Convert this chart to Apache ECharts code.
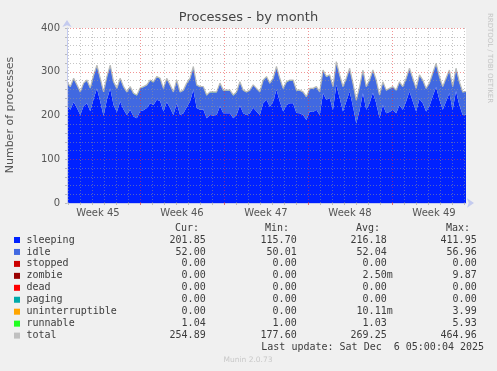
<!DOCTYPE html>
<html><head><meta charset="utf-8">
<script src="https://cdn.jsdelivr.net/npm/echarts@6/dist/echarts.min.js"></script>
<style>html,body{margin:0;padding:0;background:#f0f0f0}#c{width:497px;height:371px}</style>
</head><body><div id="c"></div>
<script>
// Sampled series (about every 6.65 h over the month window)
const sleeping = [224,213,231,217,201,222,228,210,238,262,
232,199,236,262,224,208,232,214,201,213,
198,194,210,212,217,228,224,236,233,209,
231,217,201,228,201,205,219,232,259,217,
213,214,194,201,200,201,221,205,205,205,
194,201,223,205,201,205,218,209,201,228,
236,220,232,259,232,209,224,228,228,206,
205,201,190,209,208,213,201,251,236,240,
213,270,240,209,232,255,221,182,212,251,
213,228,252,228,194,224,205,208,213,205,
224,213,232,255,232,209,238,228,209,221,
244,265,236,213,232,251,213,256,224,201,
201.85];
const idle = [52,52,53,52,52,51,52,52,53,52,
52,54,52,52,52,53,52,51,52,52,
52,52,52,53,52,52,52,52,51,52,
53,52,52,52,52,52,54,52,52,52,
52,51,52,52,53,52,52,52,52,52,
52,52,53,52,52,52,51,52,52,52,
52,53,52,52,52,52,52,52,52,51,
52,52,52,52,53,52,52,52,52,52,
52,52,52,56,52,52,52,52,53,52,
52,52,51,52,52,52,52,53,52,52,
52,52,52,52,52,52,54,52,52,52,
52,53,52,52,52,52,52,51,52,52,
52];
const runnable = [1,1,1,1,1,1,1,1,1,1,
1,1,1,1,1,1,1,1,1,1,
1,1,1,1,1,1,1,1,1,1,
1,1,1,1,1,1,1,1,1,1,
1,1,1,1,1,1,1,1,1,1,
1,1,1,1,1,1,1,1,1,1,
1,1,1,1,1,1,1,1,1,1,
1,1,1,1,1,1,1,1,1,1,
1,1,1,1,1,1,1,1,1,1,
1,1,1,1,1,1,1,1,1,1,
1,1,1,1,1,1,1,1,1,1,
1,1,1,1,1,1,1,1,1,1,
1.04];
const total = [277,266,285,270,254,274,281,263,292,315,
285,254,289,315,277,262,285,266,254,266,
251,247,263,266,270,281,277,289,285,262,
285,270,254,281,254,258,274,285,312,270,
266,266,247,254,254,254,274,258,258,258,
247,254,277,258,254,258,270,262,254,281,
289,274,285,312,285,262,277,281,281,258,
258,254,243,262,262,266,254,304,289,293,
266,323,293,266,285,308,274,235,266,304,
266,281,304,281,247,277,258,262,266,258,
277,266,285,308,285,262,293,281,262,274,
297,319,289,266,285,304,266,308,277,254,
254.89];

const weekLabels = ['Week 45','Week 46','Week 47','Week 48','Week 49'];
const yTicks = [0,100,200,300,400];

const legendNames = ['sleeping','idle','stopped','zombie','dead','paging','uninterruptible','runnable','total'];
const legendColors = ['#0022ff','#4169e1','#cc0000','#990000','#ff0000','#00aaaa','#ffa500','#22ff22','#c0c0c0'];
const curVals = ['201.85 ','52.00 ','0.00 ','0.00 ','0.00 ','0.00 ','0.00 ','1.04 ','254.89 '];
const minVals = ['115.70 ','50.01 ','0.00 ','0.00 ','0.00 ','0.00 ','0.00 ','1.00 ','177.60 '];
const avgVals = ['216.18 ','52.04 ','0.00 ','2.50m','0.00 ','0.00 ','10.11m','1.03 ','269.25 '];
const maxVals = ['411.95 ','56.96 ','0.00 ','9.87 ','0.00 ','0.00 ','3.99 ','5.93 ','464.96 '];

const sampleCats = sleeping.map((_, i) => 's' + i);
const slotCats = Array.from({length: 400}, (_, i) => i); // 2-hour slots across plot
const isDay = i => (i - 1) % 12 === 0 && !((i - 73) % 84 === 0 && i >= 73);
const isWeek = i => i >= 73 && (i - 73) % 84 === 0;
const isWeekCenter = i => i >= 31 && (i - 31) % 84 === 0;

const mono = 'DejaVu Sans Mono';
const sans = 'DejaVu Sans';
const txtColor = '#3c3c3c';

const graphics = [];
graphics.push({type:'text', left:'center', top:11, style:{text:'Processes - by month', font:'13px "DejaVu Sans"', fill:'#444'}});
graphics.push({type:'text', x:10, y:115, rotation:Math.PI/2, style:{text:'Number of processes', font:'11px "DejaVu Sans"', fill:'#555', align:'center', verticalAlign:'middle'}});
graphics.push({type:'text', x:490, y:58, rotation:-Math.PI/2, style:{text:'RRDTOOL / TOBI OETIKER', font:'7px "DejaVu Sans"', fill:'#c4c4c4', align:'center', verticalAlign:'middle'}});
const hdrY = 228;
[['Cur:',199],['Min:',289],['Avg:',380],['Max:',470]].forEach(h => {
  graphics.push({type:'text', x:h[1], y:hdrY, style:{text:h[0], font:'10px "DejaVu Sans Mono"', fill:txtColor, align:'right', verticalAlign:'middle'}});
});
legendNames.forEach((n, r) => {
  const y = 240 + r * 11.95;
  graphics.push({type:'rect', shape:{x:14, y:y-3, width:6, height:6}, style:{fill:legendColors[r]}});
  graphics.push({type:'text', x:26.5, y:y, style:{text:n, font:'10px "DejaVu Sans Mono"', fill:txtColor, align:'left', verticalAlign:'middle'}});
  [[curVals,211.7],[minVals,302.7],[avgVals,392.7],[maxVals,482.7]].forEach(c => {
    graphics.push({type:'text', x:c[1], y:y, style:{text:c[0][r], font:'10px "DejaVu Sans Mono"', fill:txtColor, align:'right', verticalAlign:'middle'}});
  });
});
graphics.push({type:'text', x:261.3, y:347.7, style:{text:'Last update: Sat Dec  6 05:00:04 2025', font:'10px "DejaVu Sans Mono"', fill:txtColor, align:'left', verticalAlign:'middle'}});
graphics.push({type:'text', x:248, y:360, style:{text:'Munin 2.0.73', font:'7.5px "DejaVu Sans"', fill:'#c8c8c8', align:'center', verticalAlign:'middle'}});

const chart = echarts.init(document.getElementById('c'), null, {renderer:'canvas'});
chart.setOption({
  animation: false,
  backgroundColor: '#f0f0f0',
  grid: {left:67, right:31, top:28, bottom:168, show:true, backgroundColor:'#ffffff', borderWidth:0},
  xAxis: [
    {type:'category', data:sampleCats, boundaryGap:false, show:false},
    {type:'category', data:slotCats, boundaryGap:false, position:'bottom', z:5,
      axisLine:{show:true, lineStyle:{color:'#c4cbef', width:1}, symbol:['none','arrow'], symbolSize:[7,7], symbolOffset:[0,8]},
      axisTick:{show:true, length:2, interval:(i)=>isDay(i), lineStyle:{color:'#bbbbbb'}},
      axisLabel:{show:true, interval:(i)=>isWeekCenter(i), formatter:(v, i)=>weekLabels[(i-31)/84] || '', color:'#555', fontFamily:sans, fontSize:10, margin:5},
      splitLine:{show:true, interval:(i)=>isDay(i), lineStyle:{color:'rgba(150,150,150,0.55)', type:[1,2], width:1}}},
    {type:'category', data:slotCats, boundaryGap:false, position:'bottom', z:6,
      axisLine:{show:false},
      axisTick:{show:true, length:2, interval:(i)=>isWeek(i), lineStyle:{color:'#e07070'}},
      axisLabel:{show:false},
      splitLine:{show:true, interval:(i)=>isWeek(i), lineStyle:{color:'rgba(230,60,60,0.55)', type:[1,2], width:1}}}
  ],
  yAxis: [
    {type:'value', min:0, max:400, interval:20, z:5,
      axisLine:{show:true, lineStyle:{color:'#c4cbef', width:1}, symbol:['none','arrow'], symbolSize:[7,7], symbolOffset:[0,8]},
      axisTick:{show:true, length:2, lineStyle:{color:'#bbbbbb'}},
      axisLabel:{formatter:(v)=>yTicks.includes(v) ? String(v) : '', color:'#555', fontFamily:sans, fontSize:10, margin:7},
      splitLine:{show:true, lineStyle:{color:['rgba(230,60,60,0.55)','rgba(150,150,150,0.55)','rgba(150,150,150,0.55)','rgba(150,150,150,0.55)','rgba(150,150,150,0.55)'], type:[1,2], width:1}}}
  ],
  series: [
    {name:'sleeping', type:'line', xAxisIndex:0, stack:'p', data:sleeping, showSymbol:false, lineStyle:{width:0}, areaStyle:{color:'#0022ff', opacity:1}, itemStyle:{color:'#0022ff'}, z:2},
    {name:'idle', type:'line', xAxisIndex:0, stack:'p', data:idle, showSymbol:false, lineStyle:{width:0}, areaStyle:{color:'#4169e1', opacity:1}, itemStyle:{color:'#4169e1'}, z:2},
    {name:'runnable', type:'line', xAxisIndex:0, stack:'p', data:runnable, showSymbol:false, lineStyle:{width:0}, areaStyle:{color:'#22ff22', opacity:1}, itemStyle:{color:'#22ff22'}, z:2},
    {name:'total', type:'line', xAxisIndex:0, data:total, showSymbol:false, lineStyle:{width:1.2, color:'#b8b8b8'}, itemStyle:{color:'#c0c0c0'}, z:3}
  ],
  graphic: graphics
});
</script></body></html>
